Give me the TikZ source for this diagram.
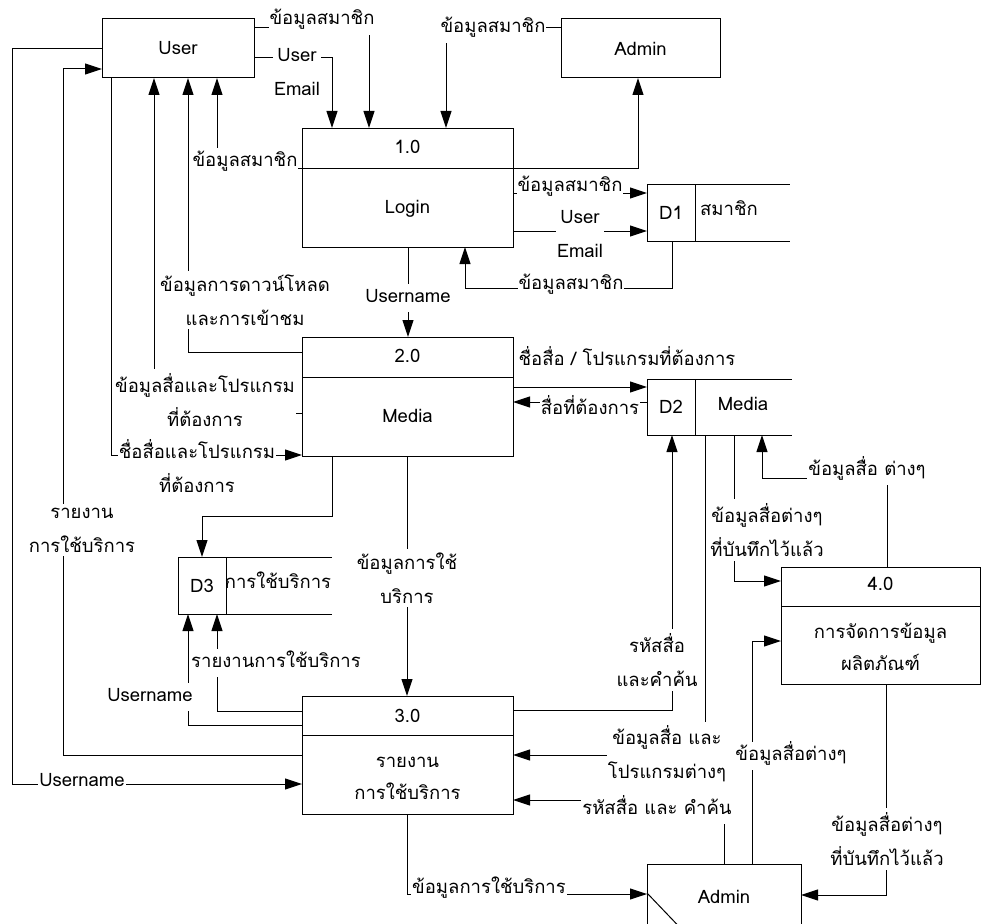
\documentclass[tikz,border=0pt]{standalone}
\usepackage{fontspec}
\setmainfont[Script=Thai]{Loma}
\usetikzlibrary{arrows.meta,calc}
\newcommand\dfdfont{\fontsize{18.5}{34}\selectfont}
\newcommand\dfdpfont{\fontsize{18.5}{32}\selectfont}
\begin{document}
\begin{tikzpicture}[x=1pt,y=-1pt,
  box/.style={draw, line width=1pt, inner sep=0pt, outer sep=0pt, font=\dfdfont},
  txt/.style={inner sep=0pt, align=center, font=\dfdpfont, text height=13pt, text depth=5pt},
  txtm/.style={inner sep=0pt, align=center, font=\dfdpfont},
  lbl/.style={fill=white, inner xsep=1pt, inner ysep=5pt, align=center, font=\dfdfont, text height=13pt, text depth=5pt},
  lblm/.style={fill=white, inner xsep=1pt, inner ysep=4pt, align=center, font=\dfdfont},
  plain/.style={draw, line width=1pt},
  flow/.style={draw, line width=1pt, -{Triangle[length=17pt,width=11pt]}}]
\clip (0,0) rectangle (981,923);
\fill[white] (0,0) rectangle (981,923);

% entities
\node[box, minimum width=152pt, minimum height=59pt] (user) at (178,48.5) {User};
\node[box, minimum width=159pt, minimum height=59pt] (admin1) at (640.5,48.5) {Admin};
\node[box, minimum width=154pt, minimum height=66pt] (admin2) at (724,897) {Admin};
\draw[plain] (admin2.west |- 0,893) -- (690,938);

% processes
\node[box, minimum width=211pt, minimum height=119pt] (p1) at (407.5,187.5) {};
\draw[plain] (p1.west |- 0,168) -- (p1.east |- 0,168);
\node[txt] (p1a) at (407.5,149) {1.0};
\node[txt] (p1b) at (407.5,209) {Login};

\node[box, minimum width=211pt, minimum height=119pt] (p2) at (407.5,396.5) {};
\draw[plain] (p2.west |- 0,377) -- (p2.east |- 0,377);
\node[txt] (p2a) at (407.5,358) {2.0};
\node[txt] (p2b) at (407.5,418) {Media};

\node[box, minimum width=211pt, minimum height=118pt] (p3) at (407.5,755) {};
\draw[plain] (p3.west |- 0,735) -- (p3.east |- 0,735);
\node[txt] (p3a) at (407.5,718) {3.0};
\node[txtm] (p3b) at (407.5,778) {รายงาน\\การใช้บริการ};

\node[box, minimum width=199pt, minimum height=117pt] (p4) at (880.5,625.5) {};
\draw[plain] (p4.west |- 0,606) -- (p4.east |- 0,606);
\node[txt] (p4a) at (880.5,586) {4.0};
\node[txtm] (p4b) at (880.5,647) {การจัดการข้อมูล\\ผลิตภัณฑ์};

% data stores
\node[box, minimum width=48pt, minimum height=57pt] (d1) at (671,212.5) {D1};
\draw[plain] (d1.north east) -- (790,184) (d1.south east) -- (790,241);
\node[txt] (d1n) at (729,211) {สมาชิก};

\node[box, minimum width=48pt, minimum height=56pt] (d2) at (671,407) {D2};
\draw[plain] (d2.north east) -- (792,379) (d2.south east) -- (792,435);
\node[txt] (d2n) at (743,406) {Media};

\node[box, minimum width=48pt, minimum height=57pt] (d3) at (202,585.5) {D3};
\draw[plain] (d3.north east) -- (332,557) (d3.south east) -- (332,614);
\node[txt] (d3n) at (278,584) {การใช้บริการ};

% flows
\draw[flow] (user.east |- 0,28) -| (p1.north -| 369,0);
\draw[flow] (user.east |- 0,58) -| (p1.north -| 332,0);
\draw[flow] (admin1.west |- 0,28) -| (p1.north -| 446,0);
\draw[flow] (p1.east |- 0,168) -| (admin1.south -| 638,0);
\draw[flow] (p1.west |- 0,168) -| (user.south -| 217,0);
\draw[flow] (p1.east |- 0,193) -- (d1.west |- 0,193);
\draw[flow] (p1.east |- 0,231) -- (d1.west |- 0,231);
\draw[flow] (d1.south -| 672,0) -- ++(0,47) -| (p1.south -| 465,0);
\draw[flow] (p1.south -| 408,0) -- (p2.north -| 408,0);
\draw[flow] (p2.west |- 0,352) -| (user.south -| 188,0);
\draw[flow] (p2.west |- 0,413) -| (user.south -| 154,0);
\draw[flow] (user.south -| 111,0) |- (p2.west |- 0,455);
\draw[flow] (p3.west |- 0,755) -- (63,755) -- (63,69) -- (user.west |- 0,69);
\draw[flow] (user.west |- 0,49) -- (12,49) -- (12,784) -- (p3.west |- 0,784);
\draw[flow] (p2.east |- 0,387) -- (d2.west |- 0,387);
\draw[flow] (d2.west |- 0,402) -- (p2.east |- 0,402);
\draw[flow] (p3.east |- 0,710) -| (d2.south -| 672,0);
\draw[flow] (d2.south -| 705,0) |- (p3.east |- 0,755);
\draw[flow] (d2.south -| 734,0) |- (p4.west |- 0,581);
\draw[flow] (p4.north -| 887,0) |- (762,478) -- (d2.south -| 762,0);
\draw[flow] (p2.south -| 332,0) -- (332,516) -| (d3.north);
\draw[flow] (p2.south -| 407,0) -- (p3.north -| 407,0);
\draw[flow] (p3.west |- 0,711) -| (d3.south -| 217,0);
\draw[flow] (p3.west |- 0,725) -| (d3.south -| 188,0);
\draw[flow] (p3.south -| 407,0) |- (admin2.west |- 0,894);
\draw[flow] (admin2.north -| 724,0) |- (p3.east |- 0,800);
\draw[flow] (admin2.north -| 752,0) |- (p4.west |- 0,641);
\draw[flow] (p4.south -| 886,0) |- (admin2.east |- 0,895);

% labels
\node[lbl] (l1) at (322,21) {ข้อมูลสมาชิก};
\node[lblm] (l2) at (297,72) {User\\Email};
\node[lbl] (l3) at (493,29) {ข้อมูลสมาชิก};
\node[lbl] (l4) at (245,162) {ข้อมูลสมาชิก};
\node[lbl] (l5) at (570,187) {ข้อมูลสมาชิก};
\node[lblm] (l6) at (580,234) {User\\Email};
\node[lbl] (l7) at (571,285) {ข้อมูลสมาชิก};
\node[lbl] (l8) at (408,298) {Username};
\node[lblm] (l9) at (245,300) {ข้อมูลการดาวน์โหลด\\และการเข้าชม};
\node[lblm] (l10) at (205,400) {ข้อมูลสื่อและโปรแกรม\\ที่ต้องการ};
\node[lblm] (l11) at (197,466) {ชื่อสื่อและโปรแกรม\\ที่ต้องการ};
\node[lblm] (l12) at (82,530) {รายงาน\\การใช้บริการ};
\node[lbl] (l13) at (82,782) {Username};
\node[inner sep=0pt, font=\dfdfont] (l14) at (627,356) {ชื่อสื่อ / โปรแกรมที่ต้องการ};
\node[lbl] (l15) at (590,410) {สื่อที่ต้องการ};
\node[lblm] (l16) at (657,660) {รหัสสื่อ\\และคำค้น};
\node[lblm] (l17) at (667,754) {ข้อมูลสื่อ และ\\โปรแกรมต่างๆ};
\node[lblm] (l18) at (767,530) {ข้อมูลสื่อต่างๆ\\ที่บันทึกไว้แล้ว};
\node[lbl] (l19) at (867,471) {ข้อมูลสื่อ ต่างๆ};
\node[lblm] (l20) at (407,578) {ข้อมูลการใช้\\บริการ};
\node[lbl] (l21) at (276,663) {รายงานการใช้บริการ};
\node[lbl] (l22) at (150,697) {Username};
\node[lbl] (l23) at (489,889) {ข้อมูลการใช้บริการ};
\node[lbl] (l24) at (657,810) {รหัสสื่อ และ คำค้น};
\node[lbl] (l25) at (791,756) {ข้อมูลสื่อต่างๆ};
\node[lblm] (l26) at (887,839) {ข้อมูลสื่อต่างๆ\\ที่บันทึกไว้แล้ว};
\end{tikzpicture}
\end{document}
